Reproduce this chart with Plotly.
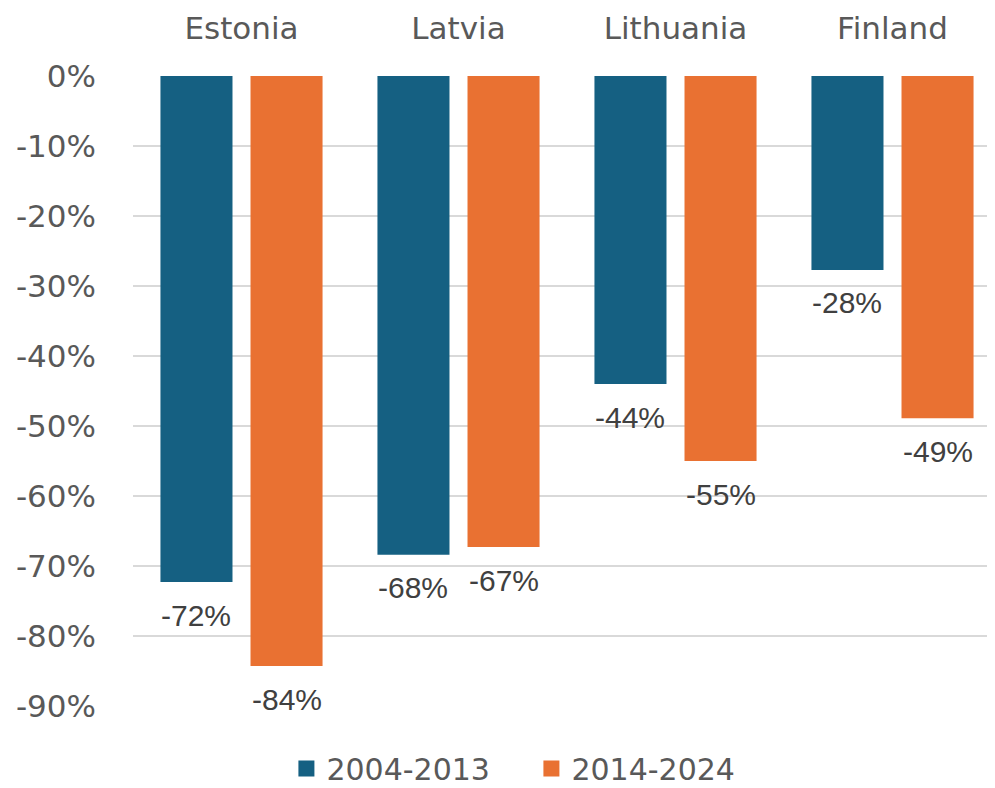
import plotly.graph_objects as go

countries = ["Estonia", "Latvia", "Lithuania", "Finland"]
series_names = ["2004-2013", "2014-2024"]
values_2004_2013 = [-72.3, -68.4, -44.0, -27.7]
values_2014_2024 = [-84.3, -67.3, -55.0, -48.9]
y_ticks = [0, -10, -20, -30, -40, -50, -60, -70, -80, -90]
y_tick_labels = [f"{v}%" for v in y_ticks]

colors = ["#156082", "#E97132"]
axis_text = "#595959"
label_text = "#404040"
bargap = 0.17

fig = go.Figure()
for name, vals, col in zip(series_names, [values_2004_2013, values_2014_2024], colors):
    fig.add_trace(go.Bar(x=countries, y=vals, name=name, showlegend=False,
                         marker=dict(color=col, line=dict(width=0))))
# legend entries with larger square swatches
for name, col in zip(series_names, colors):
    fig.add_trace(go.Scatter(x=[None], y=[None], mode="markers", name=name,
                             marker=dict(symbol="square", size=21, color=col)))

# data labels below bar ends
slot = (1 - bargap) / 2
for k, vals in enumerate([values_2004_2013, values_2014_2024]):
    off = (k - 0.5) * slot
    for i, v in enumerate(vals):
        fig.add_annotation(x=i + off, y=v, xref="x", yref="y", text=f"{round(v)}%",
                           showarrow=False, yshift=-33, yanchor="middle",
                           font=dict(family="Liberation Sans, Arial", size=30, color=label_text))

fig.update_layout(
    width=995, height=788,
    paper_bgcolor="white", plot_bgcolor="white",
    barmode="group", bargap=bargap, bargroupgap=0.2,
    margin=dict(l=125, r=2, t=68, b=90, autoexpand=False),
    font=dict(family="DejaVu Sans", size=31, color=axis_text),
    showlegend=True,
    legend=dict(orientation="h", x=0.459, xanchor="center", y=-0.058, yanchor="top",
                font=dict(size=30, color=axis_text), itemwidth=30, entrywidth=200,
                traceorder="normal"),
    xaxis=dict(side="top", type="category", range=[-0.5, 3.5], showgrid=False, showline=False,
               automargin=False, ticks="", ticklabelstandoff=30,
               tickfont=dict(size=31, color=axis_text)),
    yaxis=dict(range=[-90, 0], tickvals=y_ticks, ticktext=y_tick_labels, showgrid=True,
               gridcolor="#D9D9D9", gridwidth=2, zeroline=False, showline=False,
               automargin=False, ticks="", ticklabelstandoff=36,
               tickfont=dict(size=31, color=axis_text)),
)

fig.write_html("out.html")
